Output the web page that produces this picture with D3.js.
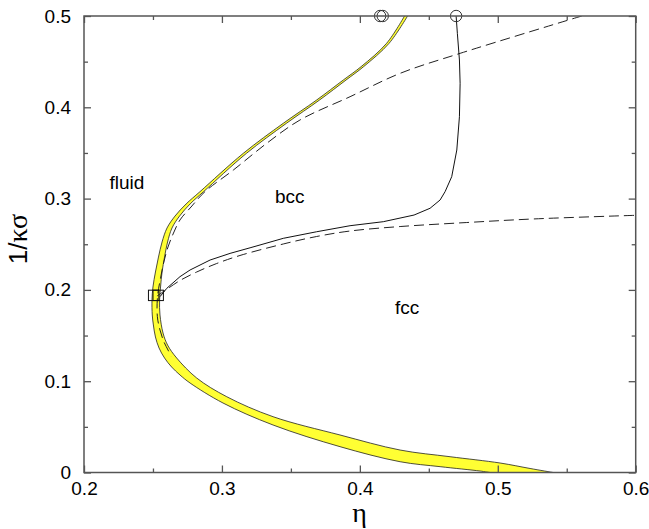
<!DOCTYPE html>
<html>
<head>
<meta charset="utf-8">
<script src="https://cdn.jsdelivr.net/npm/d3@7"></script>
<style>
  html, body { margin: 0; padding: 0; background: #fff; }
  svg { display: block; }
  text { font-family: "Liberation Sans", Arial, Helvetica, sans-serif; fill: #000; }
</style>
</head>
<body>
<svg id="chart" width="649" height="529"></svg>
<script>
// ---------------- data ----------------
const xTicks = [0.2, 0.3, 0.4, 0.5, 0.6];
const xTickLabels = ["0.2", "0.3", "0.4", "0.5", "0.6"];
const xMinorTicks = [0.25, 0.35, 0.45, 0.55];
const yTicks = [0, 0.1, 0.2, 0.3, 0.4, 0.5];
const yTickLabels = ["0", "0.1", "0.2", "0.3", "0.4", "0.5"];
const yMinorTicks = [0.05, 0.15, 0.25, 0.35, 0.45];

// fluid boundary of the coexistence band [eta, 1/(kappa sigma)], top to bottom
const fluidBoundary = [
  [0.4324, 0.5], [0.4194, 0.4701], [0.4009, 0.4445], [0.3880, 0.4299], [0.3687, 0.4080],
  [0.3445, 0.3825], [0.3155, 0.3496], [0.2841, 0.3076], [0.2740, 0.2941], [0.2660, 0.2809],
  [0.2602, 0.2678], [0.2566, 0.2525], [0.2540, 0.2360], [0.2518, 0.2196], [0.2500, 0.2032],
  [0.2493, 0.1889], [0.2495, 0.1725], [0.2503, 0.1616], [0.2518, 0.1484], [0.2544, 0.1364],
  [0.2584, 0.1254], [0.2635, 0.1156], [0.2696, 0.1068], [0.2769, 0.0980], [0.3008, 0.0761],
  [0.3371, 0.0520], [0.3856, 0.0283], [0.4292, 0.0118], [0.4582, 0.0064], [0.4872, 0.0016],
  [0.4944, 0]
];
// solid boundary of the coexistence band, top to bottom
const solidBoundary = [
  [0.4346, 0.5], [0.4212, 0.4701], [0.4027, 0.4445], [0.3900, 0.4299], [0.3708, 0.4080],
  [0.3468, 0.3825], [0.3178, 0.3496], [0.2867, 0.3076], [0.2769, 0.2941], [0.2693, 0.2809],
  [0.2638, 0.2678], [0.2606, 0.2525], [0.2584, 0.2360], [0.2566, 0.2196], [0.2555, 0.2032],
  [0.2548, 0.1889], [0.2551, 0.1725], [0.2573, 0.1528], [0.2606, 0.1396], [0.2672, 0.1254],
  [0.2817, 0.1035], [0.3035, 0.0830], [0.3371, 0.0611], [0.3856, 0.0411], [0.4292, 0.0246],
  [0.4654, 0.0173], [0.5017, 0.0104], [0.5234, 0.0044], [0.5401, 0]
];
// dashed theory curve: fluid-solid
const dashedFluidSolid = [
  [0.5609, 0.5], [0.4727, 0.4591], [0.4292, 0.4372], [0.3929, 0.4116], [0.3566, 0.3861],
  [0.3325, 0.3606], [0.3083, 0.3313], [0.2877, 0.3076], [0.2776, 0.2908], [0.2696, 0.2766],
  [0.2649, 0.2623], [0.2609, 0.2470], [0.2579, 0.2306], [0.2555, 0.2130], [0.2533, 0.1925],
  [0.2532, 0.1706], [0.2551, 0.1561], [0.2580, 0.1429], [0.2609, 0.1342], [0.2630, 0.1275]
];
// dashed theory curve: bcc-fcc
const dashedBccFcc = [
  [0.2529, 0.1933], [0.2575, 0.1980], [0.2696, 0.2103], [0.2817, 0.2196], [0.2962, 0.2289],
  [0.3131, 0.2377], [0.3445, 0.2503], [0.3687, 0.2585], [0.3929, 0.2645], [0.4292, 0.2694],
  [0.4775, 0.2738], [0.5258, 0.2777], [0.6, 0.2817]
];
// solid simulation curve: bcc-fcc
const solidBccFcc = [
  [0.2551, 0.1926], [0.26, 0.2017], [0.2696, 0.2145], [0.2769, 0.2218], [0.2914, 0.2327],
  [0.3059, 0.24], [0.3204, 0.2461], [0.3445, 0.2565], [0.3687, 0.2637], [0.3929, 0.2703],
  [0.417, 0.2747], [0.4393, 0.282], [0.4509, 0.2894], [0.4582, 0.2985], [0.4618, 0.3076],
  [0.4666, 0.324], [0.4703, 0.3532], [0.4722, 0.3897], [0.4727, 0.4263], [0.4722, 0.4518],
  [0.4707, 0.481], [0.4698, 0.5]
];
// markers
const circlePoints = [[0.4147, 0.5], [0.4166, 0.5], [0.4698, 0.5]];
const squarePoints = [[0.2505, 0.194], [0.2538, 0.194]];
// region labels
const regionLabels = [
  { text: "fluid", eta: 0.2185, v: 0.311 },
  { text: "bcc", eta: 0.3384, v: 0.2949 },
  { text: "fcc", eta: 0.4255, v: 0.1734 }
];

// ---------------- drawing ----------------
const svg = d3.select("#chart");
const x = d3.scaleLinear().domain([0.2, 0.6]).range([84, 635.7]);
const y = d3.scaleLinear().domain([0, 0.5]).range([472.5, 16]);
const axisColor = "#555";

svg.append("defs").append("clipPath").attr("id", "plotclip")
  .append("rect").attr("x", 84).attr("y", 16).attr("width", 635.7 - 84).attr("height", 472.5 - 16);

const plot = svg.append("g").attr("clip-path", "url(#plotclip)");

const smooth = d3.line().x(d => x(d[0])).y(d => y(d[1])).curve(d3.curveCatmullRom.alpha(0.5));
const straight = d3.line().x(d => x(d[0])).y(d => y(d[1]));

// coexistence band
plot.append("path")
  .attr("d", smooth(fluidBoundary) + "L" + smooth(solidBoundary.slice().reverse()).slice(1) + "Z")
  .attr("fill", "#ffff33").attr("stroke", "none");
plot.append("path").attr("d", smooth(fluidBoundary)).attr("fill", "none")
  .attr("stroke", "#222").attr("stroke-width", 0.8);
plot.append("path").attr("d", smooth(solidBoundary)).attr("fill", "none")
  .attr("stroke", "#222").attr("stroke-width", 0.8);

// dashed theory curves
[dashedFluidSolid, dashedBccFcc].forEach(data => {
  plot.append("path").attr("d", smooth(data)).attr("fill", "none")
    .attr("stroke", "#222").attr("stroke-width", 1)
    .attr("stroke-dasharray", "10,5");
});

// solid bcc-fcc line
plot.append("path").attr("d", straight(solidBccFcc)).attr("fill", "none")
  .attr("stroke", "#111").attr("stroke-width", 1);

// markers
svg.append("g").selectAll("circle").data(circlePoints).join("circle")
  .attr("cx", d => x(d[0])).attr("cy", d => y(d[1])).attr("r", 5.7)
  .attr("fill", "none").attr("stroke", "#333").attr("stroke-width", 1);
svg.append("g").selectAll("rect").data(squarePoints).join("rect")
  .attr("x", d => x(d[0]) - 5.2).attr("y", d => y(d[1]) - 5.2)
  .attr("width", 10.4).attr("height", 10.4)
  .attr("fill", "none").attr("stroke", "#111").attr("stroke-width", 1);

// axes (ticks inward, on all four sides)
function styleAxis(g) {
  g.select(".domain").remove();
  g.selectAll(".tick line").attr("stroke", axisColor).attr("stroke-width", 1.3);
  g.selectAll(".tick text").attr("font-size", 19).attr("font-family", "Liberation Sans, Arial, sans-serif").attr("fill", "#000");
}
svg.append("g").attr("transform", "translate(0,472.5)")
  .call(d3.axisBottom(x).tickValues(xTicks).tickSizeInner(-7).tickSizeOuter(0).tickPadding(9)
    .tickFormat((d, i) => xTickLabels[i]))
  .call(styleAxis);
svg.append("g").attr("transform", "translate(0,472.5)")
  .call(d3.axisBottom(x).tickValues(xMinorTicks).tickSizeInner(-4).tickSizeOuter(0).tickFormat(""))
  .call(styleAxis);
svg.append("g").attr("transform", "translate(0,16)")
  .call(d3.axisTop(x).tickValues(xTicks).tickSizeInner(-7).tickSizeOuter(0).tickFormat(""))
  .call(styleAxis);
svg.append("g").attr("transform", "translate(0,16)")
  .call(d3.axisTop(x).tickValues(xMinorTicks).tickSizeInner(-4).tickSizeOuter(0).tickFormat(""))
  .call(styleAxis);
svg.append("g").attr("transform", "translate(84,0)")
  .call(d3.axisLeft(y).tickValues(yTicks).tickSizeInner(-7).tickSizeOuter(0).tickPadding(13)
    .tickFormat((d, i) => yTickLabels[i]))
  .call(styleAxis);
svg.append("g").attr("transform", "translate(84,0)")
  .call(d3.axisLeft(y).tickValues(yMinorTicks).tickSizeInner(-4).tickSizeOuter(0).tickFormat(""))
  .call(styleAxis);
svg.append("g").attr("transform", "translate(635.7,0)")
  .call(d3.axisRight(y).tickValues(yTicks).tickSizeInner(-7).tickSizeOuter(0).tickFormat(""))
  .call(styleAxis);
svg.append("g").attr("transform", "translate(635.7,0)")
  .call(d3.axisRight(y).tickValues(yMinorTicks).tickSizeInner(-4).tickSizeOuter(0).tickFormat(""))
  .call(styleAxis);

// frame
svg.append("rect").attr("x", 84).attr("y", 16).attr("width", 635.7 - 84).attr("height", 472.5 - 16)
  .attr("fill", "none").attr("stroke", axisColor).attr("stroke-width", 1.5);

// region labels
svg.append("g").selectAll("text").data(regionLabels).join("text")
  .attr("x", d => x(d.eta)).attr("y", d => y(d.v))
  .attr("font-size", 19).text(d => d.text);

// axis titles
svg.append("text").attr("x", 359.5).attr("y", 522).attr("text-anchor", "middle")
  .attr("font-size", 28)
  .style("font-family", "'Liberation Serif', serif").text("η");
const yt = svg.append("text").attr("transform", "translate(27,239) rotate(-90)")
  .attr("text-anchor", "middle").attr("font-size", 26);
yt.append("tspan").text("1/");
yt.append("tspan").style("font-family", "'Liberation Serif', serif").attr("font-size", 28).text("κσ");
</script>
</body>
</html>
